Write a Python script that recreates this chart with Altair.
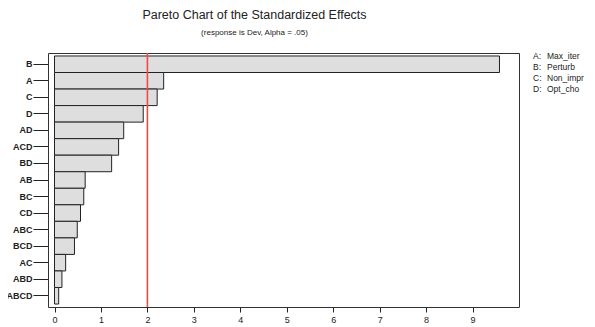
import altair as alt
import pandas as pd

terms = ["B", "A", "C", "D", "AD", "ACD", "BD", "AB", "BC", "CD", "ABC", "BCD", "AC", "ABD", "ABCD"]
effects = [9.58, 2.35, 2.21, 1.91, 1.49, 1.38, 1.23, 0.66, 0.63, 0.56, 0.49, 0.43, 0.24, 0.16, 0.09]
critical = [2.0]
x_ticks = [0, 1, 2, 3, 4, 5, 6, 7, 8, 9]

factor_letters = ["A:", "B:", "C:", "D:"]
factor_names = ["Max_iter", "Perturb", "Non_impr", "Opt_cho"]

df = pd.DataFrame({"term": terms, "effect": effects})
crit_df = pd.DataFrame({"crit": critical})
leg_df = pd.DataFrame({"letter": factor_letters, "name": factor_names, "row": list(range(len(factor_letters)))})

FONT = "Liberation Sans"
W, H = 471, 254

xscale = alt.Scale(domain=[-0.14, 10], nice=False, zero=False)

bars = alt.Chart(df).mark_bar(fill="#dedede", stroke="#222222", strokeWidth=1).encode(
    x=alt.X("effect:Q", scale=xscale,
            axis=alt.Axis(values=x_ticks, title=None, domain=False, grid=False,
                          tickColor="#222", tickSize=5, labelFontSize=9, labelFont=FONT,
                          labelColor="#222", labelPadding=3, labelFlush=False)),
    x2=alt.datum(0),
    y=alt.Y("term:N", sort=terms,
            scale=alt.Scale(paddingInner=0, paddingOuter=0.18),
            axis=alt.Axis(title=None, domain=False, grid=False, tickColor="#222",
                          tickSize=15, labelFontSize=9, labelFont=FONT, labelColor="#222",
                          labelPadding=1, labelFontWeight="bold")),
)

rule = alt.Chart(crit_df).mark_rule(color="#f44848", strokeWidth=1.6).encode(
    x=alt.X("crit:Q", scale=xscale)
)

leg_scale = alt.Scale(domain=[0, 3], range=[3, 36])
leg_letters = alt.Chart(leg_df).mark_text(align="left", baseline="middle", fontSize=8.5,
                                          font=FONT, color="#222").encode(
    x=alt.value(485),
    y=alt.Y("row:Q", scale=leg_scale, axis=None),
    text="letter:N",
)
leg_names = alt.Chart(leg_df).mark_text(align="left", baseline="middle", fontSize=8.5,
                                        font=FONT, color="#222").encode(
    x=alt.value(499),
    y=alt.Y("row:Q", scale=leg_scale, axis=None),
    text="name:N",
)

chart = alt.layer(bars, rule, leg_letters, leg_names).resolve_scale(y="independent").properties(
    width=W, height=H,
    autosize=alt.AutoSizeParams(type="none"),
    padding={"left": 40, "top": 45, "right": 68, "bottom": 20},
    title=alt.TitleParams(
        text="Pareto Chart of the Standardized Effects",
        subtitle="(response is Dev, Alpha = .05)",
        anchor="middle", dx=-29, offset=15, font=FONT, fontSize=12.5, fontWeight="normal",
        color="#222", subtitleFont=FONT, subtitleFontSize=8, subtitleColor="#222",
        subtitlePadding=8,
    ),
).configure_view(stroke="#333333", strokeWidth=1)

chart.save("out.html", embed_options={"renderer": "svg", "actions": False})
